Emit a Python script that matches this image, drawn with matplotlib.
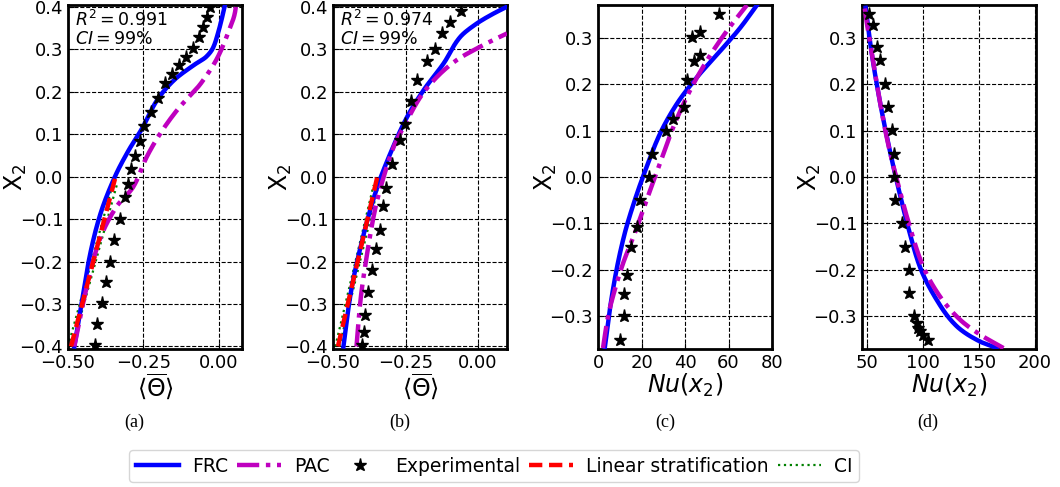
import numpy as np
import matplotlib
matplotlib.use('Agg')
import matplotlib.pyplot as plt

plt.rcParams['font.family'] = ['DejaVu Sans']
plt.rcParams['mathtext.fontset'] = 'dejavusans'

# ---- panel (a): mean temperature, case 1 ----
a_exp_t = [-0.411, -0.404, -0.387, -0.374, -0.361, -0.346, -0.327, -0.311, -0.302, -0.290,
           -0.277, -0.260, -0.247, -0.224, -0.201, -0.179, -0.156, -0.131, -0.109, -0.086,
           -0.064, -0.053, -0.038, -0.028]
a_exp_y = [-0.396, -0.347, -0.298, -0.249, -0.200, -0.149, -0.100, -0.049, -0.018, 0.019,
           0.049, 0.084, 0.119, 0.152, 0.186, 0.220, 0.242, 0.263, 0.281, 0.302,
           0.329, 0.353, 0.376, 0.400]
a_frc_t = [-0.479, -0.453, -0.428, -0.395, -0.344, -0.300, -0.255, -0.204, -0.148, -0.081,
           -0.041, -0.019, -0.002, 0.015, 0.022]
a_frc_y = [-0.400, -0.290, -0.188, -0.094, 0.000, 0.060, 0.112, 0.180, 0.227, 0.263,
           0.282, 0.302, 0.337, 0.384, 0.406]
a_pac_t = [-0.479, -0.440, -0.395, -0.339, -0.283, -0.238, -0.193, -0.137, -0.058, -0.002,
           0.031, 0.054, 0.059]
a_pac_y = [-0.400, -0.267, -0.149, -0.071, -0.024, 0.047, 0.102, 0.157, 0.220, 0.282,
           0.337, 0.384, 0.406]
a_lin_t = [-0.490, -0.342]
a_lin_y = [-0.400, 0.000]
a_ci_lo_t = [-0.500, -0.352]
a_ci_hi_t = [-0.486, -0.338]
a_ci_y = [-0.400, -0.020]

# ---- panel (b): mean temperature, case 2 ----
b_exp_t = [-0.401, -0.393, -0.388, -0.380, -0.365, -0.353, -0.338, -0.327, -0.318, -0.296,
           -0.270, -0.253, -0.231, -0.210, -0.175, -0.150, -0.123, -0.095, -0.058]
b_exp_y = [-0.396, -0.365, -0.325, -0.271, -0.221, -0.171, -0.125, -0.069, -0.026, 0.030,
           0.085, 0.123, 0.179, 0.227, 0.272, 0.300, 0.337, 0.365, 0.391]
b_frc_t = [-0.464, -0.439, -0.399, -0.347, -0.302, -0.244, -0.187, -0.118, -0.061, -0.003,
           0.054, 0.100]
b_frc_y = [-0.400, -0.275, -0.149, -0.024, 0.055, 0.141, 0.204, 0.267, 0.329, 0.361,
           0.384, 0.400]
b_pac_t = [-0.419, -0.405, -0.382, -0.353, -0.325, -0.290, -0.250, -0.198, -0.141, -0.072,
           -0.003, 0.054, 0.100]
b_pac_y = [-0.400, -0.290, -0.180, -0.071, 0.000, 0.071, 0.125, 0.188, 0.235, 0.275,
           0.302, 0.322, 0.337]
b_lin_t = [-0.483, -0.347]
b_lin_y = [-0.400, 0.000]
b_ci_lo_t = [-0.492, -0.360]
b_ci_hi_t = [-0.478, -0.343]
b_ci_y = [-0.400, -0.020]

# ---- panel (c): Nusselt number, case 1 ----
c_exp_nu = [10.0, 12.0, 12.0, 13.4, 15.4, 18.0, 19.5, 23.4, 24.6, 31.1, 34.6, 39.7,
            40.8, 44.2, 46.9, 43.4, 46.9, 55.8]
c_exp_y = [-0.350, -0.300, -0.251, -0.211, -0.151, -0.107, -0.050, 0.000, 0.050, 0.100,
           0.125, 0.150, 0.209, 0.250, 0.263, 0.301, 0.311, 0.350]
c_frc_nu = [3.1, 5.4, 8.5, 12.3, 16.9, 22.3, 28.5, 36.2, 45.4, 56.2, 65.4, 73.1]
c_frc_y = [-0.368, -0.286, -0.200, -0.121, -0.050, 0.021, 0.093, 0.157, 0.214, 0.271,
           0.321, 0.370]
c_pac_nu = [2.3, 4.6, 7.7, 11.5, 16.9, 22.3, 28.5, 34.6, 42.3, 50.0, 59.2, 68.5]
c_pac_y = [-0.368, -0.300, -0.243, -0.186, -0.121, -0.050, 0.029, 0.107, 0.186, 0.250,
           0.314, 0.370]

# ---- panel (d): Nusselt number, case 2 ----
d_exp_nu = [51.5, 55.1, 59.0, 61.1, 65.6, 68.6, 72.2, 74.0, 74.0, 75.1, 81.1, 84.1, 87.1,
            87.4, 91.9, 94.0, 95.5, 97.0, 100.0, 104.5]
d_exp_y = [0.350, 0.327, 0.280, 0.251, 0.201, 0.151, 0.101, 0.050, 0.000, -0.050, -0.099,
           -0.150, -0.200, -0.250, -0.299, -0.314, -0.325, -0.332, -0.339, -0.350]
d_frc_nu = [48.5, 53.6, 61.1, 70.1, 79.0, 88.0, 97.0, 112.0, 130.0, 150.9, 165.9]
d_frc_y = [0.364, 0.271, 0.164, 0.057, -0.036, -0.121, -0.193, -0.264, -0.321, -0.354,
           -0.368]
d_pac_nu = [47.6, 50.6, 55.1, 61.1, 68.6, 79.0, 88.0, 100.0, 115.0, 133.0, 150.9, 171.9]
d_pac_y = [0.364, 0.314, 0.250, 0.164, 0.071, -0.029, -0.107, -0.193, -0.257, -0.307,
           -0.339, -0.368]

r2_vals = ['0.991', '0.974']
captions = ['(a)', '(b)', '(c)', '(d)']


# 单调三次插值（PCHIP），沿 y 方向把读出的点连成光滑曲线
def smooth(xs, ys, n=300):
    ys = np.asarray(ys, float)
    xs = np.asarray(xs, float)
    order = np.argsort(ys)
    ys, xs = ys[order], xs[order]
    h = np.diff(ys)
    delta = np.diff(xs) / h
    m = np.zeros_like(xs)
    for k in range(1, len(xs) - 1):
        if delta[k - 1] * delta[k] > 0:
            w1 = 2 * h[k] + h[k - 1]
            w2 = h[k] + 2 * h[k - 1]
            m[k] = (w1 + w2) / (w1 / delta[k - 1] + w2 / delta[k])
    m[0] = delta[0]
    m[-1] = delta[-1]
    yy = np.linspace(ys[0], ys[-1], n)
    idx = np.clip(np.searchsorted(ys, yy, side='right') - 1, 0, len(ys) - 2)
    t = (yy - ys[idx]) / h[idx]
    h00 = 2 * t**3 - 3 * t**2 + 1
    h10 = t**3 - 2 * t**2 + t
    h01 = -2 * t**3 + 3 * t**2
    h11 = t**3 - t**2
    out = h00 * xs[idx] + h10 * h[idx] * m[idx] + h01 * xs[idx + 1] + h11 * h[idx] * m[idx + 1]
    return out, yy


fig = plt.figure(figsize=(10.6, 4.87), dpi=100)
lefts = [68, 333, 598, 862]
axes = [fig.add_axes([l / 1060, 1 - 349 / 487, 174 / 1060, 344 / 487]) for l in lefts]

blue = '#0000ff'
mag = '#bf00bf'
lw = 3.2

for i, ax in enumerate(axes):
    if i == 0:
        d = (a_exp_t, a_exp_y, a_frc_t, a_frc_y, a_pac_t, a_pac_y, a_lin_t, a_lin_y,
             a_ci_lo_t, a_ci_hi_t, a_ci_y)
    elif i == 1:
        d = (b_exp_t, b_exp_y, b_frc_t, b_frc_y, b_pac_t, b_pac_y, b_lin_t, b_lin_y,
             b_ci_lo_t, b_ci_hi_t, b_ci_y)
    elif i == 2:
        d = (c_exp_nu, c_exp_y, c_frc_nu, c_frc_y, c_pac_nu, c_pac_y)
    else:
        d = (d_exp_nu, d_exp_y, d_frc_nu, d_frc_y, d_pac_nu, d_pac_y)

    fx, fy = smooth(d[2], d[3])
    px, py = smooth(d[4], d[5])
    ax.plot(fx, fy, color=blue, lw=lw, label='FRC', zorder=3)
    ax.plot(px, py, color=mag, lw=lw, ls=(0, (5, 1.5, 1, 1.5)), label='PAC', zorder=3)
    ax.plot(d[0], d[1], ls='none', marker='*', ms=9.5, color='k', label='Experimental',
            zorder=4)
    if i < 2:
        ax.plot(d[6], d[7], color='red', lw=lw, ls=(0, (3, 1.5)),
                label='Linear stratification', zorder=3)
        ax.plot(d[8], d[10], color='green', lw=1.6, ls=':', label='CI', zorder=2)
        ax.plot(d[9], d[10], color='green', lw=1.6, ls=':', zorder=2)
        ax.text(0.04, 0.985, '$R^2 = ' + r2_vals[i] + '$\n$CI = 99\\%$',
                transform=ax.transAxes, fontsize=12.5, va='top', ha='left',
                linespacing=1.0)
        ax.set_ylim(-0.406, 0.404)
        ax.set_yticks(np.arange(-0.4, 0.41, 0.1))
        ax.set_xticks([-0.5, -0.25, 0.0])
        ax.set_xlabel(r'$\langle\overline{\Theta}\rangle$', fontsize=17, labelpad=0)
    else:
        ax.set_ylim(-0.37, 0.37)
        ax.set_yticks(np.arange(-0.3, 0.31, 0.1))
        ax.set_xlabel(r'$Nu(x_2)$', fontsize=17, labelpad=0)
    ax.set_ylabel('X$_2$', fontsize=17)
    ax.yaxis.set_label_coords(-0.225, 0.5)

    ax.grid(True, color='k', ls='--', lw=0.8)
    ax.tick_params(direction='in', labelsize=13, length=4)
    for s in ax.spines.values():
        s.set_linewidth(2)

axes[0].set_xlim(-0.5, 0.078)
axes[1].set_xlim(-0.5, 0.1)
axes[2].set_xlim(0, 80)
axes[2].set_xticks([0, 20, 40, 60, 80])
axes[3].set_xlim(45.2, 201)
axes[3].set_xticks([50, 100, 150, 200])

cap_x = [134, 400, 665, 928]
for cx, cap in zip(cap_x, captions):
    fig.text(cx / 1060, 1 - 422 / 487, cap, family='Liberation Serif', fontsize=13,
             ha='center', va='center')

h, l = axes[0].get_legend_handles_labels()
fig.legend(h, l, loc='center', bbox_to_anchor=(494 / 1060, 1 - 466 / 487), ncol=5,
           fontsize=13.5, handlelength=2.3, handletextpad=0.7, columnspacing=0.5,
           borderpad=0.35)

fig.savefig('out.png', dpi=100)
